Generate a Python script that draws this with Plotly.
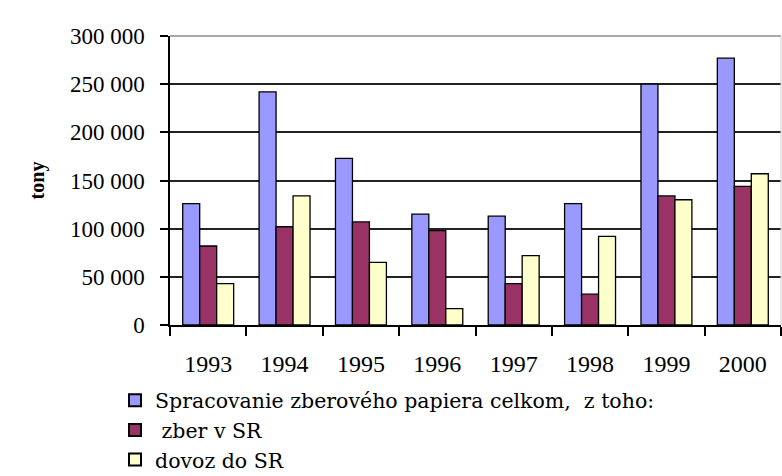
import plotly.graph_objects as go

years = ["1993", "1994", "1995", "1996", "1997", "1998", "1999", "2000"]
celkom = [126000, 242000, 173000, 115000, 113000, 126000, 250000, 277000]
zber = [82000, 102000, 107000, 98000, 43000, 32000, 134000, 144000]
dovoz = [43000, 134000, 65000, 17000, 72000, 92000, 130000, 157000]

names = ["Spracovanie zberového papiera celkom,  z toho:", " zber v SR", "dovoz do SR"]
colors = ["#9999FF", "#993366", "#FFFFCC"]
yticks = [0, 50000, 100000, 150000, 200000, 250000, 300000]

fig = go.Figure()
for vals, nm, col in zip([celkom, zber, dovoz], names, colors):
    fig.add_trace(go.Bar(x=years, y=vals, name=nm,
                         marker=dict(color=col, line=dict(color="black", width=1.3))))

serif = "Liberation Serif, Times New Roman, serif"
legserif = "DejaVu Serif, serif"
fig.update_layout(
    width=782, height=476,
    margin=dict(l=170, r=1, t=36, b=151, autoexpand=False),
    paper_bgcolor="white", plot_bgcolor="white",
    barmode="group", bargap=0.333, bargroupgap=0,
    separators=". ",
    font=dict(family=serif, size=22, color="black"),
    showlegend=True,
    legend=dict(orientation="v", x=-0.09, xanchor="left", y=-0.192, yanchor="top",
                font=dict(family=legserif, size=20.5), tracegroupgap=0,
                bgcolor="rgba(0,0,0,0)", itemsizing="constant"),
    xaxis=dict(showline=True, linecolor="black", linewidth=1.5, automargin=False,
               ticks="outside", tickson="boundaries", ticklen=9, tickcolor="black", tickwidth=1.5,
               tickfont=dict(family=serif, size=24), showgrid=False, ticklabelstandoff=16),
    yaxis=dict(range=[0, 300000], tickvals=yticks, tickformat=",d", automargin=False,
               showline=True, linecolor="black", linewidth=1.5,
               ticks="outside", ticklen=8, tickcolor="black", tickwidth=1.5,
               showgrid=True, gridcolor="#222222", gridwidth=1.5,
               tickfont=dict(family=serif, size=23), ticklabelstandoff=11,
               title=dict(text="<b>tony</b>", font=dict(family=serif, size=20), standoff=20),
               zeroline=False),
    shapes=[
        dict(type="line", xref="paper", yref="paper", x0=0, x1=1, y0=1, y1=1,
             line=dict(color="#a8a8a8", width=2), layer="above"),
        dict(type="line", xref="paper", yref="paper", x0=1, x1=1, y0=0, y1=1,
             line=dict(color="#d0d0d0", width=1), layer="above"),
    ],
)

fig.write_html("out.html", config={"displayModeBar": False},
               post_script="document.body.style.margin='0';document.body.style.overflow='hidden';")
